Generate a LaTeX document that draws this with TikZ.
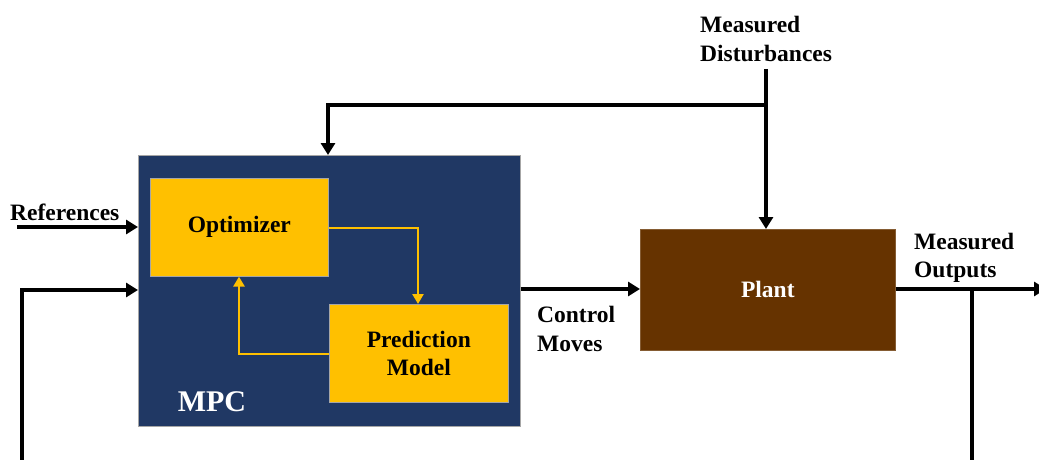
\documentclass[tikz,border=0pt]{standalone}
\usepackage{fontspec}
\setmainfont{Liberation Serif}
\usetikzlibrary{arrows.meta}
\definecolor{navy}{HTML}{203864}
\definecolor{gold}{HTML}{FFC000}
\definecolor{brown}{HTML}{663300}
\begin{document}
\begin{tikzpicture}[x=1pt,y=-1pt,
  tfont/.style={font=\fontsize{23.5}{28.5}\selectfont\bfseries},
  lbl/.style={tfont, align=left, inner sep=0pt},
  blk/.style={draw=gray!70, line width=0.6pt, inner sep=0pt, anchor=north west},
  wire/.style={line width=3.8pt, -{Triangle[length=12pt,width=14pt]}},
  ywire/.style={draw=gold, line width=2.8pt, -{Triangle[length=10pt,width=11pt]}},
  plainwire/.style={line width=3.8pt}]
\useasboundingbox (0,0) rectangle (1039,460);
\clip (0,0) rectangle (1039,460);
% blocks
\node[blk, fill=navy, minimum width=382pt, minimum height=271pt] (mpc) at (138,155) {};
\node[blk, fill=gold, minimum width=178pt, minimum height=98pt, tfont] (opt) at (150,178) {Optimizer};
\node[blk, fill=gold, minimum width=179pt, minimum height=98pt, align=center, tfont] (pred) at (329,304) {Prediction\\Model};
\node[blk, draw=brown!80!white, fill=brown, minimum width=255pt, minimum height=121pt, text=white, tfont] (plant) at (640,229) {Plant};
\node[font=\fontsize{30}{32}\selectfont\bfseries, text=white, inner sep=0pt] (mpclbl) at (212,402) {MPC};
% labels
\node[lbl, anchor=west] (dist) at (700,39) {Measured\\Disturbances};
\node[lbl, anchor=west] (ref) at (10,212) {References};
\node[lbl, anchor=west] (cm) at (537,329) {Control\\Moves};
\node[lbl, anchor=west] (mo) at (914,258) {Measured\\Outputs};
% coordinates
\coordinate (dtop) at (766,69);
\coordinate (dbranch) at (766,105);
\coordinate (refin) at (17,227);
\coordinate (fbl) at (22,470);
\coordinate (fbr) at (972,470);
\coordinate (outend) at (1046,289);
\coordinate (mobranch) at (972,289);
% black connectors
\draw[wire] (dtop) -- (dbranch) -- (plant.north -| dbranch);
\draw[wire] (dbranch) -- (328,105) -- (mpc.north -| 328,0);
\draw[wire] (refin) -- (mpc.west |- refin);
\draw[wire] (fbl) -- (22,290) -- (mpc.west |- 0,290);
\draw[wire] (mpc.east |- 0,289) -- (plant.west |- 0,289);
\draw[wire] (plant.east |- outend) -- (outend);
\draw[plainwire] (mobranch) -- (fbr);
% yellow connectors
\draw[ywire] (opt.east |- 0,228) -- (418,228) -- (pred.north -| 418,0);
\draw[ywire] (pred.west |- 0,354) -- (239,354) -- (opt.south -| 239,0);
\end{tikzpicture}
\end{document}
